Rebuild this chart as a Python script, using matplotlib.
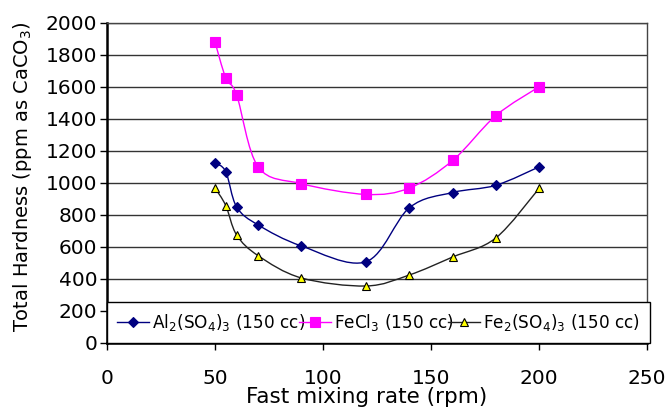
import numpy as np
import matplotlib
matplotlib.use("Agg")
import matplotlib.pyplot as plt
from matplotlib.path import Path
from matplotlib.patches import PathPatch

plt.rcParams['font.family'] = ['DejaVu Sans']
plt.rcParams['mathtext.default'] = 'regular'

# =============================================================================
# DATA
# =============================================================================
rpm = [50, 55, 60, 70, 90, 120, 140, 160, 180, 200]
al2so43 = [1125, 1070, 850, 737, 606, 508, 845, 940, 985, 1100]
fecl3 = [1880, 1655, 1550, 1100, 995, 928, 968, 1140, 1420, 1600]
fe2so43 = [968, 858, 675, 545, 406, 356, 425, 537, 656, 965]

labels = ['Al$_2$(SO$_4$)$_3$ (150 cc)', 'FeCl$_3$ (150 cc)', 'Fe$_2$(SO$_4$)$_3$ (150 cc)']
x_ticks = [0, 50, 100, 150, 200, 250]
y_ticks = list(range(0, 2001, 200))


def smooth_path(x, y):
    """Excel-style smoothed line: cubic Bezier segments through every point."""
    p = np.column_stack([x, y]).astype(float)
    pts = np.vstack([p[0], p, p[-1]])
    verts, codes = [p[0]], [Path.MOVETO]
    for i in range(1, len(pts) - 2):
        c1 = pts[i] + (pts[i + 1] - pts[i - 1]) / 6
        c2 = pts[i + 1] - (pts[i + 2] - pts[i]) / 6
        verts += [c1, c2, pts[i + 1]]
        codes += [Path.CURVE4] * 3
    return Path(verts, codes)


fig = plt.figure(figsize=(6.7, 4.11), dpi=100)
ax = fig.add_axes([0.1597, 0.1655, 0.806, 0.779])

series = [
    (al2so43, '#000080', 'D', '#000080', '#000080', 5),
    (fecl3, '#FF00FF', 's', '#FF00FF', '#FF00FF', 6.5),
    (fe2so43, '#222222', '^', '#FFFF00', '#000000', 6),
]
for (vals, col, mk, fc, ec, ms), lab in zip(series, labels):
    ax.add_patch(PathPatch(smooth_path(rpm, vals), facecolor='none', edgecolor=col, lw=1, zorder=3))
    ax.plot(rpm, vals, linestyle='none', marker=mk, markersize=ms, markerfacecolor=fc,
            markeredgecolor=ec, markeredgewidth=0.8, zorder=4)
    # legend proxy
    ax.plot([], [], color=col, lw=1, marker=mk, markersize=ms, markerfacecolor=fc,
            markeredgecolor=ec, markeredgewidth=0.8, label=lab)

ax.set_xlim(0, 250)
ax.set_ylim(0, 2000)
ax.set_xticks(x_ticks)
ax.set_yticks(y_ticks)
ax.tick_params(axis='both', labelsize=14.5, direction='out', length=5, width=1, color='black')
ax.tick_params(axis='x', pad=14)
ax.tick_params(axis='y', pad=2)

ax.yaxis.grid(True, color='#333333', lw=1)
ax.set_axisbelow(True)
for side in ['top', 'right']:
    ax.spines[side].set_color('#444444')
    ax.spines[side].set_linewidth(1)
ax.spines['left'].set_linewidth(1.8)
ax.spines['bottom'].set_linewidth(1.8)

ax.set_xlabel('Fast mixing rate (rpm)', fontsize=15.5)
ax.set_ylabel('Total Hardness (ppm as CaCO$_3$)', fontsize=14)
ax.xaxis.set_label_coords(0.48, -0.138)
ax.yaxis.set_label_coords(-0.136, 0.52)

leg = ax.legend(loc='lower left', bbox_to_anchor=(0, 0, 1.005, 0.128), mode='expand',
                ncol=3, fontsize=12.2, frameon=True, fancybox=False, borderaxespad=0,
                handlelength=1.9, handletextpad=0.15, columnspacing=0.0, borderpad=0.6)
leg.get_frame().set_edgecolor('black')
leg.get_frame().set_linewidth(1)
leg.get_frame().set_alpha(1)
leg.set_zorder(5)

plt.savefig('out.png', dpi=100)
